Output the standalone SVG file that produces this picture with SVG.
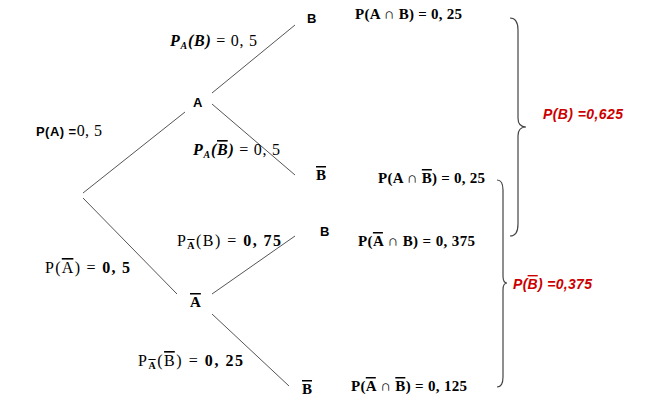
<svg xmlns="http://www.w3.org/2000/svg" width="646" height="409" viewBox="0 0 646 409">
<style>
.bg{fill:#fff}
.edge{stroke:#555;stroke-width:1;fill:none}
.brace{stroke:#444;stroke-width:1.2;fill:none}
.node{font-family:"Liberation Sans",Arial,sans-serif;font-weight:bold;font-size:13px;fill:#000}
.nodes{font-family:"Liberation Serif","Times New Roman",serif;font-weight:bold;font-size:15px;fill:#000}
.m{font-family:"Liberation Serif","Times New Roman",serif;font-size:16px;fill:#000}
.mb{font-family:"Liberation Serif","Times New Roman",serif;font-size:15px;font-weight:bold;fill:#000}
.mi{font-family:"Liberation Serif","Times New Roman",serif;font-size:16px;font-style:italic;font-weight:bold;fill:#000}
.b{font-weight:bold}
.n{font-weight:normal;font-style:normal}
.sub{font-size:10px}
.ov{text-decoration:overline}
.red{font-family:"Liberation Sans",Arial,sans-serif;font-size:14px;font-style:italic;font-weight:bold;fill:#cc0000}
.sans{font-family:"Liberation Sans",Arial,sans-serif;font-weight:bold;font-size:13px}
</style>
<rect class="bg" width="646" height="409"/>
<g id="connectors">
<line class="edge" x1="83" y1="193" x2="185" y2="112"/>
<line class="edge" x1="83" y1="198" x2="177" y2="294"/>
<line class="edge" x1="212" y1="93" x2="295" y2="25"/>
<line class="edge" x1="212" y1="104" x2="295" y2="175"/>
<line class="edge" x1="212" y1="294" x2="295" y2="236"/>
<line class="edge" x1="212" y1="314" x2="289" y2="386"/>
</g>
<g id="edge-labels">
<text class="m" x="36" y="136" textLength="66"><tspan class="sans">P(A) =</tspan>0, 5</text>
<text class="mi" x="170" y="46" textLength="87">P<tspan class="sub" dy="3">A</tspan><tspan dy="-3">(B)</tspan><tspan class="n"> = 0, 5</tspan></text>
<text class="mi" x="193" y="155" textLength="87">P<tspan class="sub" dy="3">A</tspan><tspan dy="-3">(</tspan><tspan class="ov">B</tspan>)<tspan class="n"> = 0, 5</tspan></text>
<text class="m" x="177" y="246" textLength="104">P<tspan class="sub b ov" dy="3">A</tspan><tspan dy="-3">(B) = </tspan><tspan class="b">0, 75</tspan></text>
<text class="m" x="45" y="273" textLength="85">P(<tspan class="ov">A</tspan>) = <tspan class="b">0, 5</tspan></text>
<text class="m" x="138" y="366" textLength="105">P<tspan class="sub b ov" dy="3">A</tspan><tspan dy="-3">(</tspan><tspan class="ov">B</tspan>) = <tspan class="b">0, 25</tspan></text>
</g>
<g id="node-root"></g>
<g id="node-A"><text class="node" x="193" y="107">A</text></g>
<g id="node-notA"><text class="nodes" x="190" y="307"><tspan class="ov">A</tspan></text></g>
<g id="node-AB"><text class="node" x="307" y="23">B</text></g>
<g id="node-AnotB"><text class="nodes" x="316" y="180"><tspan class="ov">B</tspan></text></g>
<g id="node-notAB"><text class="node" x="320" y="236">B</text></g>
<g id="node-notAnotB"><text class="nodes" x="302" y="394"><tspan class="ov">B</tspan></text></g>
<g id="results">
<text class="mb" x="355" y="19" textLength="107">P(A ∩ B) = 0, 25</text>
<text class="mb" x="378" y="183" textLength="107">P(A ∩ <tspan class="ov">B</tspan>) = 0, 25</text>
<text class="mb" x="358" y="246" textLength="117">P(<tspan class="ov">A</tspan> ∩ B) = 0, 375</text>
<text class="mb" x="351" y="391" textLength="116">P(<tspan class="ov">A</tspan> ∩ <tspan class="ov">B</tspan>) = 0, 125</text>
</g>
<g id="brace-B">
<path class="brace" d="M510,18 Q518,18 518,30 L518,118 Q518,127 526,127 Q518,127 518,136 L518,224 Q518,236 510,236"/>
<text class="red" x="543" y="119" textLength="80">P(B) =0,625</text>
</g>
<g id="brace-notB">
<path class="brace" d="M497,180 Q503,180 503,190 L503,276 Q503,283 507,283 Q503,283 503,290 L503,377 Q503,387 497,387"/>
<text class="red" x="513" y="289" textLength="79">P(<tspan class="ov">B</tspan>) =0,375</text>
</g>
</svg>
